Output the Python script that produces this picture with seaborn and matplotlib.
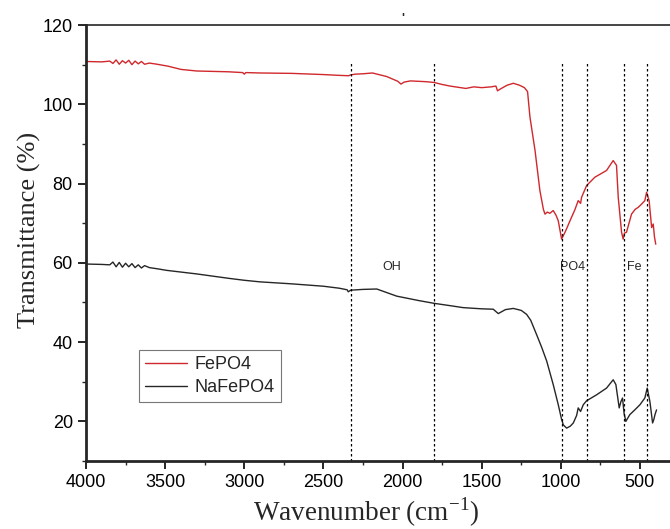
"""
FTIR spectra of FePO4 and NaFePO4
"""

import pandas as pd
import matplotlib.pyplot as plt
import seaborn as sns
from matplotlib.ticker import MultipleLocator

# ---------------------------------
# Data
# ---------------------------------

wn_fepo4 = [4000, 3900, 3850, 3830, 3810, 3790, 3770, 3750, 3730, 3710, 3690,
            3670, 3650, 3630, 3600, 3550, 3480, 3400, 3300, 3100, 3010, 3000,
            2990, 2900, 2700, 2500, 2400, 2340, 2330, 2300, 2250, 2190, 2100,
            2030, 2010, 1990, 1950, 1850, 1800, 1750, 1700, 1650, 1600, 1550,
            1500, 1440, 1410, 1400, 1380, 1340, 1300, 1260, 1230, 1210, 1195,
            1163, 1132, 1110, 1100, 1085, 1069, 1048, 1030, 1016, 995, 970,
            942, 910, 890, 875, 869, 837, 785, 711, 669, 655, 648, 637, 616,
            606, 598, 585, 553, 530, 511, 490, 469, 458, 442, 426, 416, 408, 400]
t_fepo4 = [110.8, 110.7, 110.9, 110.3, 111.2, 110.1, 111.0, 110.4, 111.1, 110.0,
           110.9, 110.2, 110.8, 110.1, 110.4, 110.1, 109.6, 108.8, 108.4, 108.2,
           108.0, 107.6, 108.0, 107.9, 107.8, 107.5, 107.3, 107.2, 107.4, 107.6,
           107.7, 107.9, 107.0, 105.8, 105.1, 105.6, 105.9, 105.7, 105.5, 105.0,
           104.6, 104.3, 104.0, 104.4, 104.2, 104.4, 104.6, 103.4, 103.9, 104.8,
           105.3, 104.8, 104.2, 103.2, 96.8, 88.4, 78.2, 73.5, 72.3, 72.8, 72.5,
           73.2, 72.0, 70.6, 66.0, 68.0, 70.6, 73.5, 75.7, 75.0, 76.5, 79.5,
           81.6, 83.3, 85.8, 85.0, 84.6, 76.5, 67.7, 66.0, 67.5, 67.7, 72.3,
           73.5, 74.0, 74.8, 75.7, 77.8, 75.7, 68.9, 69.8, 66.5, 64.7]

wn_nafepo4 = [4000, 3900, 3850, 3830, 3810, 3790, 3770, 3750, 3730, 3710, 3690,
              3670, 3650, 3630, 3600, 3550, 3490, 3300, 3100, 3000, 2900, 2700,
              2500, 2400, 2350, 2343, 2328, 2250, 2163, 2100, 2037, 1900, 1803,
              1700, 1617, 1500, 1427, 1395, 1350, 1300, 1250, 1216, 1190, 1153,
              1120, 1089, 1048, 1016, 995, 984, 963, 940, 921, 900, 890, 875,
              858, 837, 774, 711, 669, 652, 631, 620, 610, 600, 589, 564, 530,
              500, 469, 454, 437, 420, 412, 405, 395]
t_nafepo4 = [59.7, 59.6, 59.5, 60.2, 59.0, 60.1, 58.9, 59.9, 59.0, 59.8, 58.8,
             59.5, 58.7, 59.3, 58.8, 58.5, 58.1, 57.2, 56.1, 55.6, 55.2, 54.7,
             54.1, 53.6, 53.2, 52.7, 53.1, 53.3, 53.4, 52.5, 51.6, 50.5, 49.8,
             49.2, 48.7, 48.4, 48.3, 47.2, 48.2, 48.5, 48.0, 47.0, 45.5, 41.9,
             38.6, 35.2, 29.3, 24.2, 20.5, 19.1, 18.3, 18.8, 19.6, 21.5, 23.4,
             22.5, 24.2, 25.2, 26.7, 28.4, 30.5, 29.3, 23.4, 25.0, 25.9, 22.0,
             20.0, 21.7, 23.0, 24.2, 25.9, 28.4, 25.0, 19.6, 20.5, 21.7, 22.9]

band_lines = [2328, 1803, 995, 833, 603, 458]
band_labels = ["OH", "PO4", "Fe"]
band_label_x = [2067, 923, 538]

df = pd.concat([
    pd.DataFrame({"wn": wn_fepo4, "T": t_fepo4, "sample": "FePO4"}),
    pd.DataFrame({"wn": wn_nafepo4, "T": t_nafepo4, "sample": "NaFePO4"}),
])

# ---------------------------------
# Plot
# ---------------------------------

sns.set_style("ticks")
plt.rcParams["font.family"] = ["Liberation Sans", "DejaVu Sans"]
plt.rcParams["mathtext.fontset"] = "custom"
plt.rcParams["mathtext.rm"] = "Liberation Serif"

fig = plt.figure(figsize=(6.7, 5.29), dpi=100)
ax = fig.add_axes([0.1284, 0.1285, 0.8716, 0.8242])

sns.lineplot(
    data=df, x="wn", y="T", hue="sample",
    palette={"FePO4": "#d0282c", "NaFePO4": "#262626"},
    estimator=None, sort=False, linewidth=1.0, ax=ax
)

for w in band_lines:
    ax.plot([w, w], [10, 111], color="black", linestyle=(0, (2, 2)),
            linewidth=0.9)

for lab, w in zip(band_labels, band_label_x):
    ax.text(w, 59, lab, fontsize=9, ha="center", va="center")

ax.text(2000, 121.5, "'", fontsize=9, ha="center", va="center",
        fontweight="bold")

ax.set_xlim(4000, 310)
ax.set_ylim(10, 120)
ax.xaxis.set_major_locator(MultipleLocator(500))
ax.xaxis.set_minor_locator(MultipleLocator(250))
ax.yaxis.set_major_locator(MultipleLocator(20))
ax.yaxis.set_minor_locator(MultipleLocator(10))
ax.tick_params(axis="both", which="major", direction="out", length=6,
               width=1.2, labelsize=13, colors="black")
ax.tick_params(axis="both", which="minor", direction="out", length=3,
               width=1.0)

for s in ["left", "bottom"]:
    ax.spines[s].set_linewidth(2)
ax.spines["top"].set_linewidth(1.2)
ax.spines["right"].set_visible(False)

ax.set_xlabel("Wavenumber (cm$^{\\mathrm{-1}}$)", family="Liberation Serif",
              fontsize=19.5, va="baseline")
ax.set_ylabel("Transmittance (%)", family="Liberation Serif", fontsize=19)
ax.xaxis.set_label_coords(0.479, -0.136)
ax.yaxis.set_label_coords(-0.077, 0.53)

leg = ax.legend(loc="lower left", bbox_to_anchor=(0.091, 0.135), fontsize=13,
                frameon=True, fancybox=False, edgecolor="#555555",
                handlelength=2.3, borderpad=0.35, labelspacing=0.3,
                handletextpad=0.4, borderaxespad=0)
leg.get_frame().set_linewidth(0.8)

fig.savefig("out.png", dpi=100)
